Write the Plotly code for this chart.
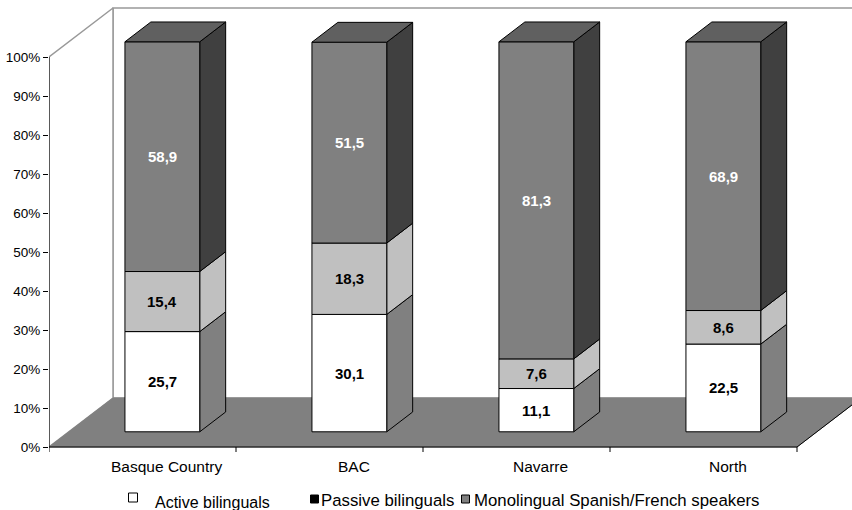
import plotly.graph_objects as go

# ---------------- data ----------------
categories = ["Basque Country", "BAC", "Navarre", "North"]
active = [25.7, 30.1, 11.1, 22.5]
passive = [15.4, 18.3, 7.6, 8.6]
monolingual = [58.9, 51.5, 81.3, 68.9]
series_names = ["Active bilinguals", "Passive bilinguals", "Monolingual Spanish/French speakers"]
y_tick_values = [0, 10, 20, 30, 40, 50, 60, 70, 80, 90, 100]
y_tick_labels = [f"{v}%" for v in y_tick_values]

# ---------------- style ----------------
W, H = 852, 510
ML, MB = 49, 55
PX_PER_CAT = 187.0
PX_PER_PCT = 3.9
PLOT_W = W - ML
PLOT_H = H - MB
X_RANGE = [0, PLOT_W / PX_PER_CAT]
Y_LOW = -(PLOT_H - 447) / PX_PER_PCT
Y_RANGE = [Y_LOW, Y_LOW + PLOT_H / PX_PER_PCT]

DEPTH_X = 64 / PX_PER_CAT      # depth vector in x units
DEPTH_Y = 49 / PX_PER_PCT      # depth vector in % units
F_FRONT, F_BACK = 0.31, 0.715  # bar depth position (fractions)
HALF_W = 0.2                   # half bar width (category units)
FONT = "Liberation Sans, Arial, sans-serif"

front_colors = ["#FFFFFF", "#C0C0C0", "#808080"]
side_colors = ["#808080", "#C0C0C0", "#404040"]
top_color = "#606060"
label_colors = ["black", "black", "white"]
wall_line = "#999999"

fig = go.Figure()


def poly(xs, ys, fill, line="black", width=1):
    fig.add_trace(go.Scatter(
        x=list(xs) + [xs[0]], y=list(ys) + [ys[0]], mode="lines", fill="toself",
        fillcolor=fill, line=dict(color=line, width=width),
        hoverinfo="skip", showlegend=False))


def seg(xs, ys, color="black", width=1):
    fig.add_trace(go.Scatter(x=xs, y=ys, mode="lines", line=dict(color=color, width=width),
                             hoverinfo="skip", showlegend=False))


n = len(categories)
ymax = y_tick_values[-1]
far = n + DEPTH_X + 0.5

# back wall
poly([DEPTH_X, DEPTH_X, far, far], [DEPTH_Y, ymax + DEPTH_Y, ymax + DEPTH_Y, DEPTH_Y],
     "white", wall_line, 1.5)
# left wall
poly([0, 0, DEPTH_X, DEPTH_X], [0, ymax, ymax + DEPTH_Y, DEPTH_Y], "white", wall_line, 1.5)
# floor
poly([0, n, n + DEPTH_X, DEPTH_X], [0, 0, DEPTH_Y, DEPTH_Y], "#808080", "#808080", 1)
seg([n, n + DEPTH_X], [0, DEPTH_Y], "black", 1)

# bars
series = [active, passive, monolingual]
fx1, fy1 = F_FRONT * DEPTH_X, F_FRONT * DEPTH_Y
fx2, fy2 = F_BACK * DEPTH_X, F_BACK * DEPTH_Y
for i in range(n):
    c = i + 0.5
    base = 0.0
    for s, vals in enumerate(series):
        v = vals[i]
        top = base + v
        xl, xr = c + fx1 - HALF_W, c + fx1 + HALF_W
        # side face
        poly([xr, c + fx2 + HALF_W, c + fx2 + HALF_W, xr],
             [base + fy1, base + fy2, top + fy2, top + fy1], side_colors[s])
        # front face
        poly([xl, xr, xr, xl], [base + fy1, base + fy1, top + fy1, top + fy1], front_colors[s])
        fig.add_annotation(x=c + fx1, y=(base + top) / 2 + fy1, xref="x", yref="y",
                           text="<b>" + f"{v:.1f}".replace(".", ",") + "</b>", showarrow=False,
                           font=dict(family=FONT, size=15, color=label_colors[s]),
                           )
        base = top
    # top face
    poly([c + fx1 - HALF_W, c + fx1 + HALF_W, c + fx2 + HALF_W, c + fx2 - HALF_W],
         [base + fy1, base + fy1, base + fy2, base + fy2], top_color)

# axes lines and category ticks
seg([0, 0], [0, ymax], "black", 1)
seg([0, n], [0, 0], "black", 1.2)
tick_len = 5 / PX_PER_PCT
for k in range(n + 1):
    seg([k, k], [0, -tick_len], "black", 1)


def py2paper(py):
    return (PLOT_H - py) / PLOT_H


def px2paper(px):
    return (px - ML) / PLOT_W


# category labels
for i, name in enumerate(categories):
    fig.add_annotation(x=i + 0.5 + 0.13, y=py2paper(467), xref="x", yref="paper",
                       text=name, showarrow=False, xanchor="center", yanchor="middle",
                       font=dict(family=FONT, size=15.5, color="black"))

# legend (drawn manually)
legend_items = [
    (128.5, 493, 9, front_colors[0], 153, 502.5, 16),
    (310.5, 495, 8, "#000000", 319, 500, 16.8),
    (461.5, 495, 8, front_colors[2], 472, 500, 16.8),
]
for (sx, sy, ss, col, tx, ty, fs), name in zip(legend_items, series_names):
    fig.add_shape(type="rect", xref="paper", yref="paper",
                  x0=px2paper(sx), x1=px2paper(sx + ss), y0=py2paper(sy), y1=py2paper(sy + ss),
                  fillcolor=col, line=dict(color="black", width=1))
    fig.add_annotation(x=px2paper(tx), y=py2paper(ty), xref="paper", yref="paper",
                       text=name, showarrow=False, xanchor="left", yanchor="middle",
                       font=dict(family=FONT, size=fs, color="black"))

fig.update_layout(
    width=W, height=H,
    margin=dict(l=ML, r=0, t=0, b=MB, pad=0),
    paper_bgcolor="white", plot_bgcolor="white",
    showlegend=False,
    font=dict(family=FONT, color="black"),
    xaxis=dict(range=X_RANGE, showgrid=False, zeroline=False, showline=False,
               showticklabels=False, ticks="", fixedrange=True),
    yaxis=dict(range=Y_RANGE, showgrid=False, zeroline=False, showline=False,
               tickmode="array", tickvals=y_tick_values, ticktext=y_tick_labels,
               ticks="outside", ticklen=5, tickcolor="black", tickwidth=1,
               tickfont=dict(family=FONT, size=13.5, color="black"), fixedrange=True),
)

fig.write_html("out.html")
